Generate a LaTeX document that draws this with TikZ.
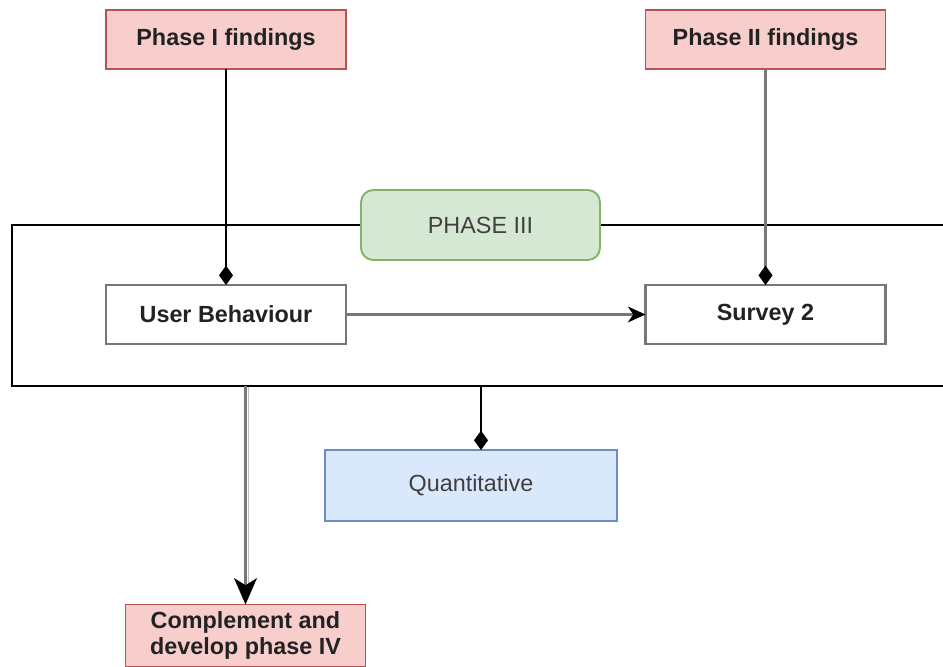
\documentclass[tikz,border=0pt]{standalone}
\usepackage{fontspec}
\setmainfont{Liberation Sans}
\usetikzlibrary{arrows.meta,calc}
\definecolor{redfill}{HTML}{F8CECC}
\definecolor{redline}{HTML}{B85450}
\definecolor{greenfill}{HTML}{D5E8D4}
\definecolor{greenline}{HTML}{82B366}
\definecolor{bluefill}{HTML}{DAE8FC}
\definecolor{blueline}{HTML}{6C8EBF}
\definecolor{boxgray}{HTML}{777777}
\definecolor{txt}{HTML}{222222}
\begin{document}
\begin{tikzpicture}[x=0.02cm,y=-0.02cm,
  every node/.style={inner sep=0pt, outer sep=0pt, text=txt,
    font=\fontsize{13.3}{15.5}\selectfont},
  findbox/.style={draw=redline, fill=redfill, line width=1.1pt,
    minimum width=240*0.02cm, minimum height=59*0.02cm,
    font=\fontsize{13.3}{15.5}\selectfont\bfseries},
  stagebox/.style={draw=boxgray, fill=white, line width=1.6pt,
    minimum width=240*0.02cm, minimum height=59*0.02cm,
    font=\fontsize{13.3}{15.5}\selectfont\bfseries},
  link/.style={line width=1.3pt},
  diamondend/.style={-{Diamond[length=11pt,width=8pt,color=black]}},
]
\useasboundingbox (0,0) rectangle (943,666);
\begin{scope}
\clip (0,0) rectangle (943,666);

% Phase III frame (runs past the right edge)
\node[draw=black, line width=1.1pt, minimum width=988*0.02cm,
      minimum height=161*0.02cm] (frame) at (506,305.5) {};

% Phase title on the frame
\node[draw=greenline, fill=greenfill, line width=1.1pt, rounded corners=7pt,
      text=black!75,
      minimum width=239*0.02cm, minimum height=70*0.02cm] (phase) at (480.5,225) {PHASE III};

% Inputs
\node[findbox] (p1) at (226,39.5) {Phase I findings};
\node[findbox] (p2) at (765.5,39.5) {Phase II findings};

% Stages inside the frame
\node[stagebox] (user) at (226,314.5) {User Behaviour};
\node[stagebox] (survey) at (765.5,314.5) {Survey 2};

% Outputs
\node[draw=blueline, fill=bluefill, line width=1.1pt, text=black!75,
      minimum width=292*0.02cm, minimum height=71*0.02cm] (quant) at (471,485.5) {Quantitative};
\node[findbox, minimum height=62*0.02cm, align=center,
      font=\fontsize{13.3}{15}\selectfont\bfseries] (comp) at (245.5,635.5)
      {Complement and\\develop phase IV};

% Connectors
\draw[link, black, diamondend] (p1.south) -- (user.north);
\draw[link, boxgray, diamondend] (p2.south) -- (survey.north);
\draw[link, boxgray, -{Stealth[length=10pt,width=9pt,inset=3pt,color=black]}]
  (user.east) -- (survey.west);
\draw[link, black, diamondend] (frame.south -| 481,0) -- (481,450) coordinate (qtop);
\draw[line width=1pt, black!25] ($(frame.south -| comp.north)+(3,1)$) -- ($(comp.north)+(3,-20)$);
\draw[link, boxgray, -{Stealth[length=15pt,width=13pt,inset=4pt,color=black]}]
  (frame.south -| comp.north) -- (comp.north);
\end{scope}
\end{tikzpicture}
\end{document}
